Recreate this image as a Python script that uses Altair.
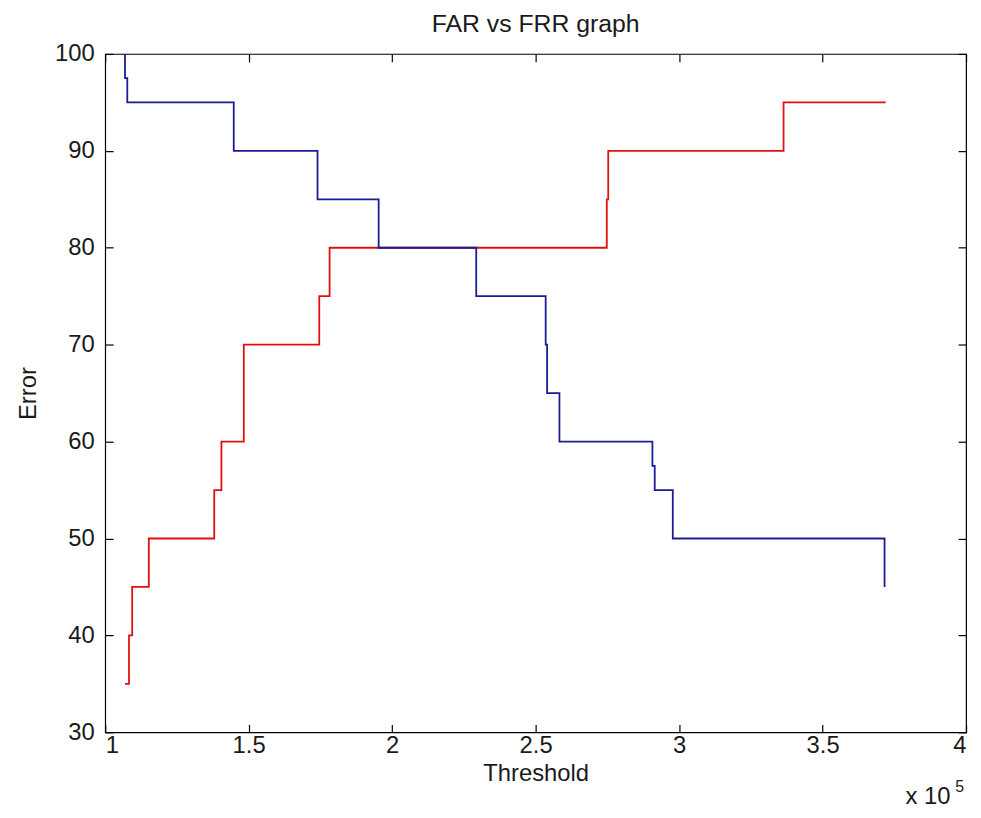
import altair as alt
import pandas as pd

# Threshold values (raw units) and error percentages
blue_threshold = [106900, 106900, 107700, 144800, 174000, 195300, 229300, 253500,
                  254000, 258300, 290700, 291500, 297800, 371600]
blue_error = [100, 97.5, 95, 90, 85, 80, 75, 70, 65, 60, 57.5, 55, 50, 45]

red_threshold = [106900, 108300, 109400, 115200, 138000, 140500, 148300, 174600,
                 178200, 274800, 275300, 336400, 372000]
red_error = [35, 40, 45, 50, 55, 60, 70, 75, 80, 85, 90, 95, 95]

x_ticks = [100000, 150000, 200000, 250000, 300000, 350000, 400000]
y_ticks = [30, 40, 50, 60, 70, 80, 90, 100]

title_text = "FAR vs FRR graph"
mult_text = "x 10"
exp_text = "5"

FONT = "Liberation Sans"
TXT = "#1a1a1a"

red_df = pd.DataFrame({"threshold": red_threshold, "error": red_error})
blue_df = pd.DataFrame({"threshold": blue_threshold, "error": blue_error})

xdom = alt.Scale(domain=[100000, 400000], nice=False, zero=False)
ydom = alt.Scale(domain=[30, 100], nice=False, zero=False)

common_axis = dict(offset=-8, tickSize=8, tickColor="black", tickWidth=1.2,
                   domain=False, grid=False)

red = alt.Chart(red_df).mark_line(interpolate="step-after", color="#e01010",
                                  strokeWidth=1.8).encode(
    x=alt.X("threshold:Q", scale=xdom,
            axis=alt.Axis(orient="bottom", values=x_ticks,
                          labelExpr="format(datum.value / 100000, '~g')",
                          labelFont=FONT, labelFontSize=24, labelColor=TXT,
                          labelPadding=1, title="Threshold", titleFont=FONT,
                          titleFontSize=24, titleFontWeight="normal",
                          titleColor=TXT, titlePadding=5, **common_axis)),
    y=alt.Y("error:Q", scale=ydom,
            axis=alt.Axis(orient="left", values=y_ticks,
                          labelFont=FONT, labelFontSize=24, labelColor=TXT,
                          labelPadding=11, title="Error", titleFont=FONT,
                          titleFontSize=24, titleFontWeight="normal",
                          titleColor=TXT, titlePadding=14, **common_axis)),
)

blue = alt.Chart(blue_df).mark_line(interpolate="step-after", color="#1c1c96",
                                    strokeWidth=1.8).encode(
    x=alt.X("threshold:Q", scale=xdom,
            axis=alt.Axis(orient="top", values=x_ticks, labels=False, title=None,
                          **common_axis)),
    y=alt.Y("error:Q", scale=ydom,
            axis=alt.Axis(orient="right", values=y_ticks, labels=False, title=None,
                          **common_axis)),
)

title = alt.Chart(alt.Data(values=[{"t": title_text}])).mark_text(
    font=FONT, fontSize=25, color=TXT, align="center", baseline="alphabetic"
).encode(x=alt.value(434), y=alt.value(-22), text="t:N")

mult = alt.Chart(alt.Data(values=[{"t": mult_text}])).mark_text(
    font=FONT, fontSize=24, color=TXT, align="left", baseline="alphabetic"
).encode(x=alt.value(807), y=alt.value(756), text="t:N")

sup = alt.Chart(alt.Data(values=[{"t": exp_text}])).mark_text(
    font=FONT, fontSize=16, color=TXT, align="left", baseline="alphabetic"
).encode(x=alt.value(857), y=alt.value(744), text="t:N")

chart = alt.layer(red, blue, title, mult, sup).resolve_scale(
    x="independent", y="independent"
).resolve_axis(x="independent", y="independent").properties(
    width=868, height=684,
    background="white",
    autosize=alt.AutoSizeParams(type="none"),
    padding={"left": 98, "top": 43, "right": 7, "bottom": 75},
).configure_view(stroke="#000000", strokeWidth=1.2)

chart.save("out.html", embed_options={"renderer": "svg", "actions": False})
